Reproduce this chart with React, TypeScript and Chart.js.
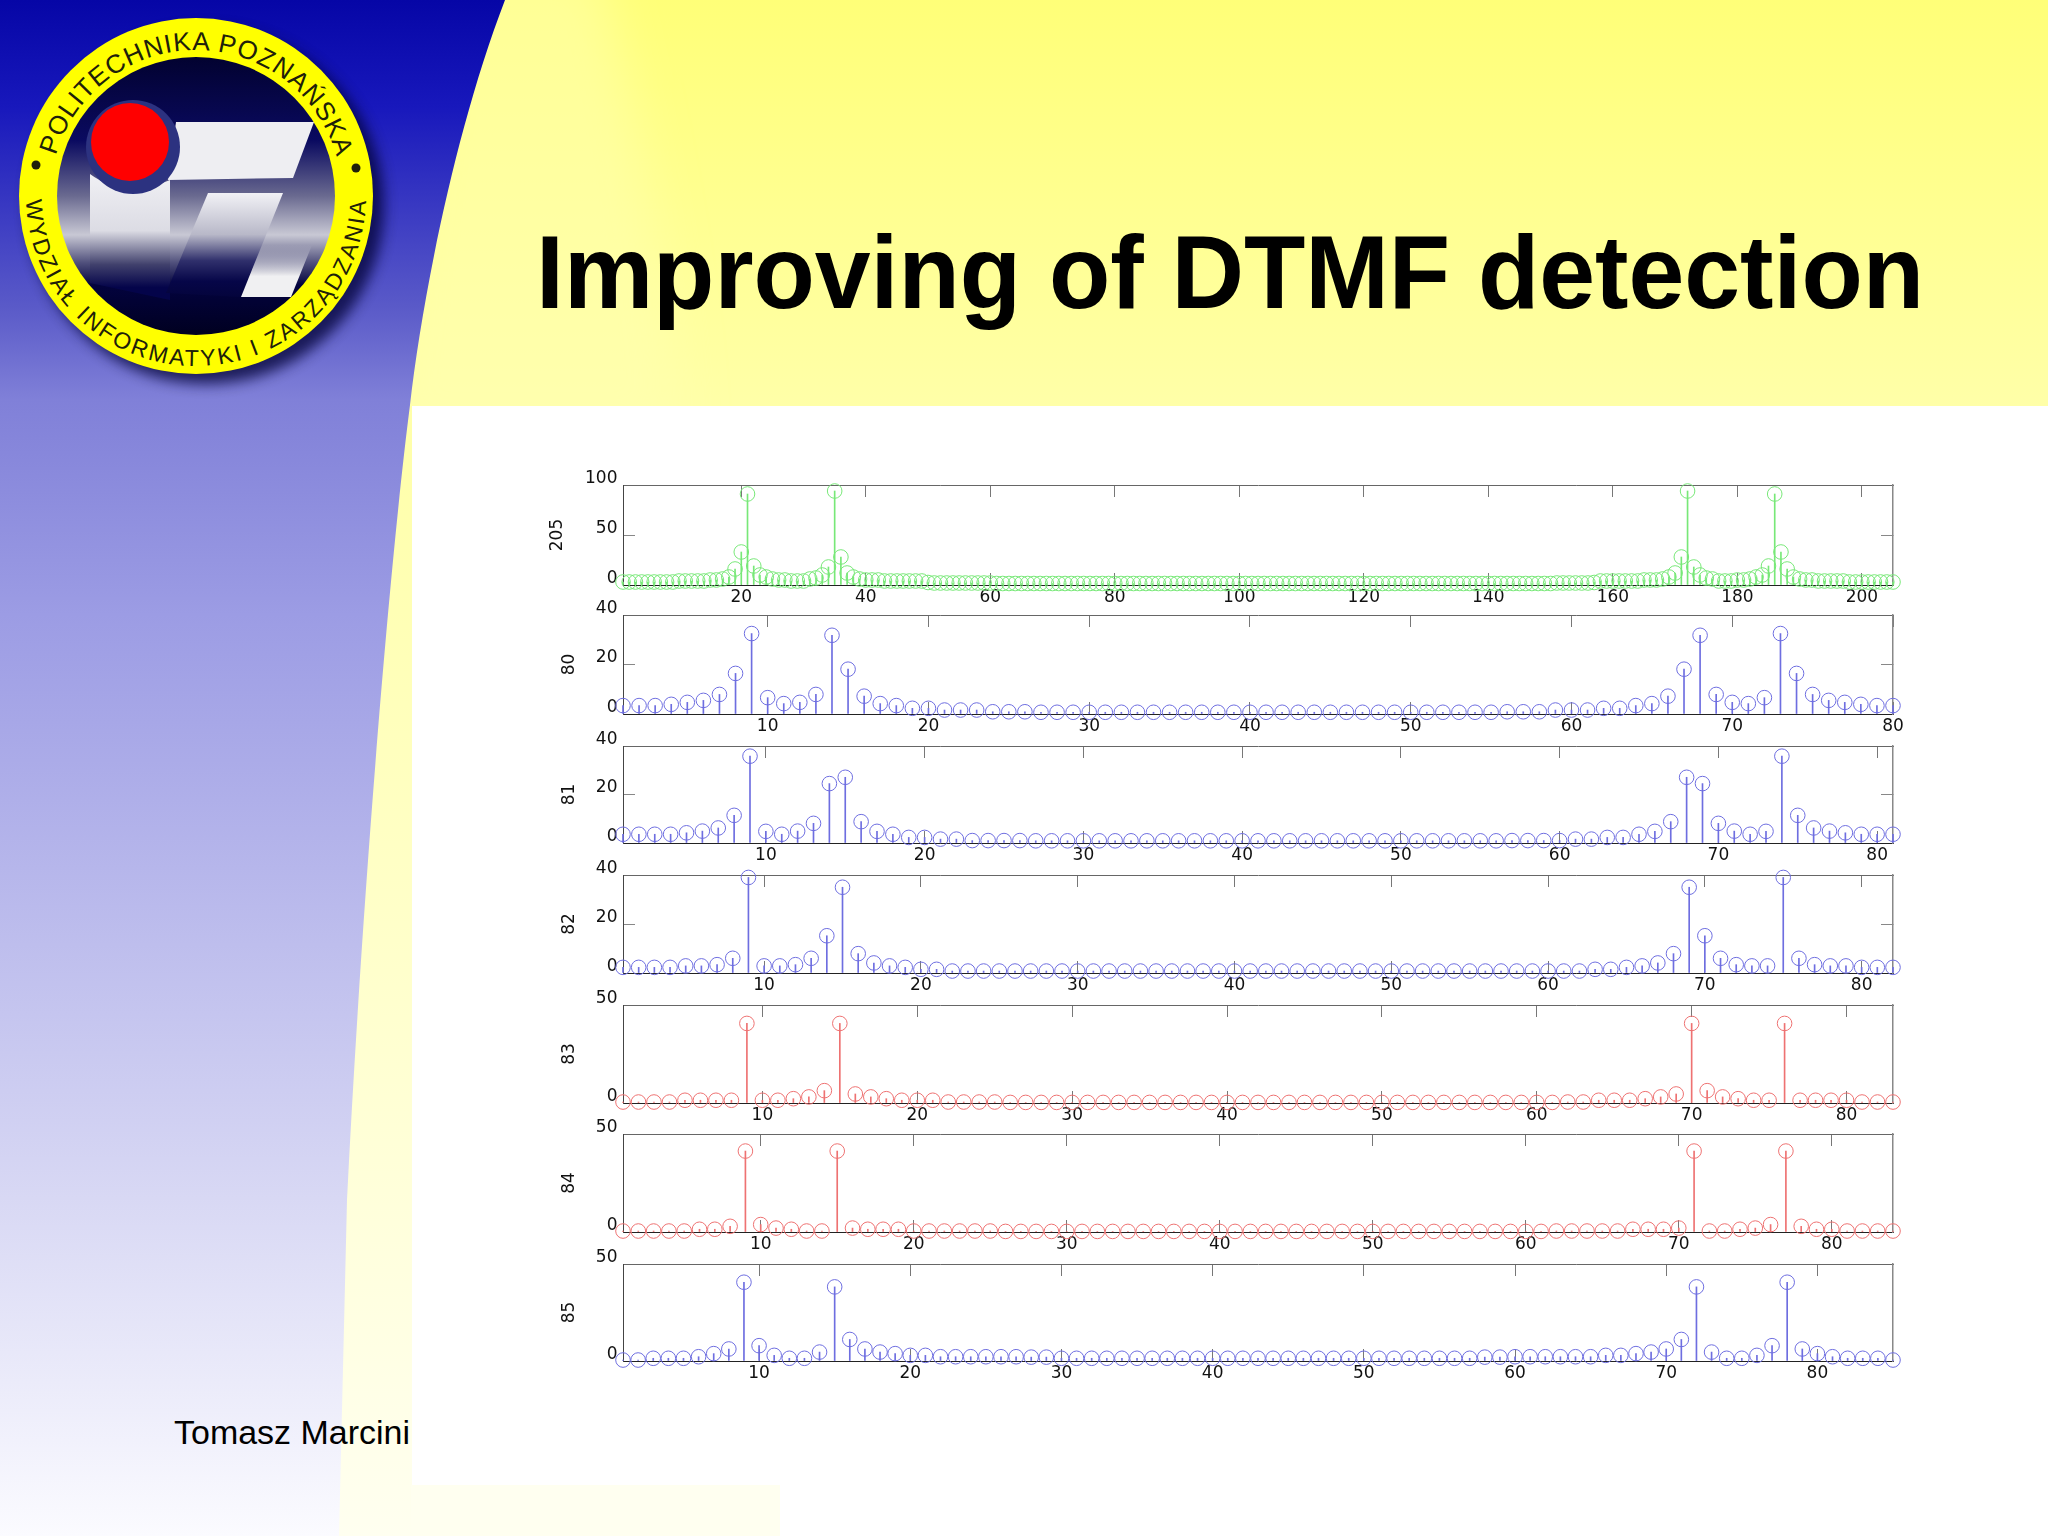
import { useEffect, useRef } from "react";
import { Chart, registerables } from "chart.js";

Chart.register(...registerables);

// magnitude spectra, one array per frame length
const dft205 = [
  3, 3, 3, 3, 3, 3, 3, 3, 3, 4,
  4, 4, 4, 4, 5, 5, 6, 8, 16, 33,
  91, 19, 10, 8, 6, 5, 5, 4, 4, 4,
  6, 7, 10, 18, 94, 28, 12, 8, 6, 5,
  5, 5, 4, 4, 4, 4, 4, 4, 4, 2.5,
  2, 2, 2, 2, 2, 2, 2, 2, 2, 2,
  1.5, 1.5, 1.5, 1.5, 1.5, 1.5, 1.5, 1.5, 1.5, 1.5,
  1.5, 1.5, 1.5, 1.5, 1.5, 1.5, 1.5, 1.5, 1.5, 1.5,
  1.5, 1.5, 1.5, 1.5, 1.5, 1.5, 1.5, 1.5, 1.5, 1.5,
  1.5, 1.5, 1.5, 1.5, 1.5, 1.5, 1.5, 1.5, 1.5, 1.5,
  1.5, 1.5, 1.5, 1.5, 1.5, 1.5, 1.5, 1.5, 1.5, 1.5,
  1.5, 1.5, 1.5, 1.5, 1.5, 1.5, 1.5, 1.5, 1.5, 1.5,
  1.5, 1.5, 1.5, 1.5, 1.5, 1.5, 1.5, 1.5, 1.5, 1.5,
  1.5, 1.5, 1.5, 1.5, 1.5, 1.5, 1.5, 1.5, 1.5, 1.5,
  1.5, 1.5, 1.5, 1.5, 1.5, 1.5, 1.5, 1.5, 1.5, 1.5,
  2, 2, 2, 2, 2, 2, 2.5, 4, 4, 4,
  4, 4, 4, 4, 5, 5, 5, 6, 8, 12,
  28, 94, 18, 10, 7, 6, 4, 4, 4, 5,
  5, 6, 8, 10, 19, 91, 33, 16, 8, 6,
  5, 5, 4, 4, 4, 4, 4, 3, 3, 3,
  3, 3, 3, 3, 3,
];
const dft80 = [
  3.4, 3.4, 3.4, 3.9, 4.7, 5.5, 7.9, 16.4, 32.5, 6.6,
  4.2, 4.7, 7.9, 31.8, 18.1, 7.2, 4.2, 3.4, 2.3, 2.3,
  1.6, 1.6, 1.6, 0.9, 0.9, 0.9, 0.7, 0.7, 0.7, 0.7,
  0.7, 0.7, 0.7, 0.7, 0.7, 0.7, 0.7, 0.7, 0.7, 0.7,
  0.7, 0.7, 0.7, 0.7, 0.7, 0.7, 0.7, 0.7, 0.7, 0.7,
  0.7, 0.7, 0.7, 0.7, 0.7, 0.9, 0.9, 0.9, 1.6, 1.6,
  1.6, 2.3, 2.3, 3.4, 4.2, 7.2, 18.1, 31.8, 7.9, 4.7,
  4.2, 6.6, 32.5, 16.4, 7.9, 5.5, 4.7, 3.9, 3.4, 3.4,
];
const dft81 = [
  3.6, 3.6, 3.6, 3.6, 4.2, 4.9, 6.2, 11.4, 35.8, 4.8,
  3.6, 4.9, 8.1, 24.5, 27.1, 8.8, 4.8, 3.6, 2.3, 2.3,
  1.6, 1.6, 1, 1, 1, 1, 0.9, 0.9, 0.9, 0.9,
  0.9, 0.9, 0.9, 0.9, 0.9, 0.9, 0.9, 0.9, 0.9, 0.9,
  0.9, 0.9, 0.9, 0.9, 0.9, 0.9, 0.9, 0.9, 0.9, 0.9,
  0.9, 0.9, 0.9, 0.9, 0.9, 0.9, 1, 1, 1, 1,
  1.6, 1.6, 2.3, 2.3, 3.6, 4.8, 8.8, 27.1, 24.5, 8.1,
  4.9, 3.6, 4.8, 35.8, 11.4, 6.2, 4.9, 4.2, 3.6, 3.6,
  3.6,
];
const dft82 = [
  2.3, 2.3, 2.3, 2.3, 2.9, 2.9, 3.4, 6, 39, 2.9,
  2.9, 3.4, 6, 15.2, 35, 7.9, 4.1, 2.9, 2.3, 1.5,
  1.5, 0.8, 0.8, 0.8, 0.8, 0.8, 0.8, 0.8, 0.8, 0.8,
  0.8, 0.8, 0.8, 0.8, 0.8, 0.8, 0.8, 0.8, 0.8, 0.8,
  0.8, 0.8, 0.8, 0.8, 0.8, 0.8, 0.8, 0.8, 0.8, 0.8,
  0.8, 0.8, 0.8, 0.8, 0.8, 0.8, 0.8, 0.8, 0.8, 0.8,
  0.8, 0.8, 1.5, 1.5, 2.3, 2.9, 4.1, 7.9, 35, 15.2,
  6, 3.4, 2.9, 2.9, 39, 6, 3.4, 2.9, 2.9, 2.3,
  2.3, 2.3,
];
const dft83 = [
  0.5, 0.5, 0.5, 0.5, 1.4, 1.4, 1.4, 1.4, 40.6, 1.4,
  1.4, 2.2, 3.1, 6.3, 40.6, 4.6, 3.1, 2.2, 1.4, 1.4,
  1.4, 0.5, 0.5, 0.5, 0.5, 0.3, 0.3, 0.3, 0.3, 0.3,
  0.3, 0.3, 0.3, 0.3, 0.3, 0.3, 0.3, 0.3, 0.3, 0.3,
  0.3, 0.3, 0.3, 0.3, 0.3, 0.3, 0.3, 0.3, 0.3, 0.3,
  0.3, 0.3, 0.3, 0.3, 0.3, 0.3, 0.3, 0.3, 0.3, 0.3,
  0.3, 0.5, 0.5, 1.4, 1.4, 1.4, 2.2, 3.1, 4.6, 40.6,
  6.3, 3.1, 2.2, 1.4, 1.4, 40.6, 1.4, 1.4, 1.4, 1.4,
  0.5, 0.5, 0.5,
];
const dft84 = [
  0.5, 0.5, 0.5, 0.5, 0.5, 1.4, 1.4, 2.9, 41.3, 3.8,
  2, 1.4, 0.5, 0.5, 41.3, 2, 1.4, 1.4, 1.4, 0.5,
  0.5, 0.5, 0.5, 0.5, 0.5, 0.3, 0.3, 0.3, 0.3, 0.3,
  0.3, 0.3, 0.3, 0.3, 0.3, 0.3, 0.3, 0.3, 0.3, 0.3,
  0.3, 0.3, 0.3, 0.3, 0.3, 0.3, 0.3, 0.3, 0.3, 0.3,
  0.3, 0.3, 0.3, 0.3, 0.3, 0.3, 0.3, 0.3, 0.3, 0.3,
  0.3, 0.5, 0.5, 0.5, 0.5, 0.5, 1.4, 1.4, 1.4, 2,
  41.3, 0.5, 0.5, 1.4, 2, 3.8, 41.3, 2.9, 1.4, 1.4,
  0.5, 0.5, 0.5, 0.5,
];
const dft85 = [
  0.5, 0.5, 1.4, 1.4, 1.4, 2.2, 3.8, 6.2, 40.6, 7.9,
  2.9, 1.4, 1.4, 4.6, 38.2, 11.1, 6.2, 4.6, 3.8, 2.9,
  2.9, 2.2, 2.2, 2.2, 2.2, 2.2, 2.2, 2, 2, 1.4,
  1.4, 1.4, 1.4, 1.4, 1.4, 1.4, 1.4, 1.4, 1.4, 1.4,
  1.4, 1.4, 1.4, 1.4, 1.4, 1.4, 1.4, 1.4, 1.4, 1.4,
  1.4, 1.4, 1.4, 1.4, 1.4, 1.4, 1.4, 2, 2, 2.2,
  2.2, 2.2, 2.2, 2.2, 2.2, 2.9, 2.9, 3.8, 4.6, 6.2,
  11.1, 38.2, 4.6, 1.4, 1.4, 2.9, 7.9, 40.6, 6.2, 3.8,
  2.2, 1.4, 1.4, 1.4, 0.5,
];

const ticks205 = [20, 40, 60, 80, 100, 120, 140, 160, 180, 200];
const ticksShort = [10, 20, 30, 40, 50, 60, 70, 80];
const yTicks100 = [0, 50, 100];
const yTicks40 = [0, 20, 40];
const yTicks50 = [0, 50];

const GREEN = "#78e878";
const BLUE = "#6e6ee0";
const RED = "#ee7272";

const CANVAS_LEFT = 530;
const CANVAS_WIDTH = 1400;
const FONT = { family: "'DejaVu Sans'", size: 17 };

const panels = [
  { title: "205", values: dft205, xTicks: ticks205, yTicks: yTicks100, color: GREEN, top: 485, bottom: 585, titlePad: 17 },
  { title: "80", values: dft80, xTicks: ticksShort, yTicks: yTicks40, color: BLUE, top: 615, bottom: 714, titlePad: 29 },
  { title: "81", values: dft81, xTicks: ticksShort, yTicks: yTicks40, color: BLUE, top: 746, bottom: 843, titlePad: 29 },
  { title: "82", values: dft82, xTicks: ticksShort, yTicks: yTicks40, color: BLUE, top: 875, bottom: 973, titlePad: 29 },
  { title: "83", values: dft83, xTicks: ticksShort, yTicks: yTicks50, color: RED, top: 1005, bottom: 1103, titlePad: 29 },
  { title: "84", values: dft84, xTicks: ticksShort, yTicks: yTicks50, color: RED, top: 1134, bottom: 1232, titlePad: 29 },
  { title: "85", values: dft85, xTicks: ticksShort, yTicks: yTicks50, color: BLUE, top: 1264, bottom: 1361, titlePad: 29 },
];

type PanelCfg = (typeof panels)[number];

const AXIS_LEFT = 93;
const AXIS_RIGHT = 37;
// must stay above the y scale's own label padding, or the plot gets pushed down
const AXIS_TOP = 32;
const AXIS_BOTTOM = 32;
const TICK_IN = -12;

function StemPanel({ cfg }: { cfg: PanelCfg }) {
  const canvasRef = useRef<HTMLCanvasElement | null>(null);
  const chartRef = useRef<Chart | null>(null);
  const height = cfg.bottom - cfg.top + AXIS_TOP + AXIS_BOTTOM;

  useEffect(() => {
    const ctx = canvasRef.current?.getContext("2d");
    if (!ctx) return;
    const points = cfg.values.map((y, i) => ({ x: i + 1, y }));
    const yMax = cfg.yTicks[cfg.yTicks.length - 1];
    const xMax = cfg.values.length;
    const setX = (s: any) => { s.ticks = cfg.xTicks.map((value) => ({ value })); };
    const setY = (s: any) => { s.ticks = cfg.yTicks.map((value) => ({ value })); };

    chartRef.current = new Chart(ctx, {
      type: "bar",
      data: {
        datasets: [
          {
            type: "line",
            data: points,
            showLine: false,
            pointStyle: "circle",
            pointRadius: 7.3,
            pointBackgroundColor: "rgba(0,0,0,0)",
            pointBorderColor: cfg.color,
            pointBorderWidth: 1,
            clip: false,
          },
          {
            type: "bar",
            data: points,
            backgroundColor: cfg.color,
            barThickness: 1,
            borderWidth: 0,
            clip: false,
          },
        ],
      } as any,
      options: {
        animation: false,
        responsive: false,
        devicePixelRatio: 1,
        layout: { padding: 0 },
        plugins: { legend: { display: false }, tooltip: { enabled: false } },
        scales: {
          x: {
            type: "linear",
            position: "bottom",
            min: 1,
            max: xMax,
            offset: false,
            afterBuildTicks: setX,
            afterFit: (s: any) => { s.height = AXIS_BOTTOM; },
            border: { color: "#222", width: 1 },
            grid: { drawOnChartArea: false, tickLength: TICK_IN, tickColor: "#777", offset: false },
            ticks: { font: FONT, color: "#111", padding: 14.5, maxRotation: 0, autoSkip: false, callback: (v: any) => String(v) },
          },
          x2: {
            type: "linear",
            axis: "x",
            position: "top",
            min: 1,
            max: xMax,
            offset: false,
            afterBuildTicks: setX,
            afterFit: (s: any) => { s.height = AXIS_TOP; },
            border: { color: "#666", width: 1 },
            grid: { drawOnChartArea: false, tickLength: TICK_IN, tickColor: "#777", offset: false },
            ticks: { display: false },
          },
          y: {
            type: "linear",
            position: "left",
            min: 0,
            max: yMax,
            afterBuildTicks: setY,
            afterFit: (s: any) => { s.width = AXIS_LEFT; },
            border: { color: "#444", width: 1 },
            grid: { drawOnChartArea: false, tickLength: TICK_IN, tickColor: "#888" },
            title: { display: true, text: cfg.title, font: FONT, color: "#111", padding: { top: cfg.titlePad, bottom: 0 } },
            ticks: { font: FONT, color: "#111", padding: 17.5, labelOffset: -6.5, autoSkip: false, callback: (v: any) => String(v) },
          },
          y2: {
            type: "linear",
            axis: "y",
            position: "right",
            min: 0,
            max: yMax,
            afterBuildTicks: setY,
            afterFit: (s: any) => { s.width = AXIS_RIGHT; },
            border: { color: "#888", width: 1.5 },
            grid: { drawOnChartArea: false, tickLength: TICK_IN, tickColor: "#888" },
            ticks: { display: false },
          },
        },
      } as any,
    });
    return () => chartRef.current?.destroy();
  }, []);

  return (
    <canvas
      ref={canvasRef}
      width={CANVAS_WIDTH}
      height={height}
      style={{ position: "absolute", left: CANVAS_LEFT, top: cfg.top - AXIS_TOP, width: CANVAS_WIDTH, height }}
    />
  );
}

function Backdrop() {
  const sans = "'Liberation Sans'";
  return (
    <svg width={2048} height={1536} viewBox="0 0 2048 1536" style={{ position: "absolute", left: 0, top: 0 }}>
      <defs>
        <linearGradient id="yellowTop" x1="0" y1="0" x2="0" y2="1">
          <stop offset="0" stopColor="#ffff78" />
          <stop offset="1" stopColor="#ffffa8" />
        </linearGradient>
        <linearGradient id="yellowSide" x1="0" y1="0" x2="0" y2="1">
          <stop offset="0" stopColor="#ffffa8" />
          <stop offset="1" stopColor="#fffff0" />
        </linearGradient>
        <linearGradient id="blueSide" x1="0" y1="0" x2="0" y2="1">
          <stop offset="0" stopColor="#0606a6" />
          <stop offset="0.07" stopColor="#1818bc" />
          <stop offset="0.2" stopColor="#5a5ac8" />
          <stop offset="0.26" stopColor="#8080d8" />
          <stop offset="0.4" stopColor="#9c9ce4" />
          <stop offset="0.78" stopColor="#d8d8f4" />
          <stop offset="1" stopColor="#fbfbff" />
        </linearGradient>
        <linearGradient id="discFill" x1="0" y1="0" x2="0" y2="1">
          <stop offset="0" stopColor="#020230" />
          <stop offset="0.3" stopColor="#0a0a60" />
          <stop offset="0.5" stopColor="#6a6a90" />
          <stop offset="0.64" stopColor="#c8c8d4" />
          <stop offset="0.74" stopColor="#50507c" />
          <stop offset="0.82" stopColor="#03033e" />
          <stop offset="1" stopColor="#000020" />
        </linearGradient>
        <linearGradient id="stemFill" x1="0" y1="0" x2="0" y2="1">
          <stop offset="0" stopColor="#f0f0f4" />
          <stop offset="0.45" stopColor="#dcdce4" />
          <stop offset="0.72" stopColor="#40406c" />
          <stop offset="0.9" stopColor="#04044a" />
          <stop offset="1" stopColor="#04044a" />
        </linearGradient>
        <linearGradient id="diagFill" x1="0" y1="0" x2="0" y2="1">
          <stop offset="0" stopColor="#f2f2f6" />
          <stop offset="0.4" stopColor="#b8b8c8" />
          <stop offset="0.65" stopColor="#30306c" />
          <stop offset="0.85" stopColor="#060648" />
          <stop offset="1" stopColor="#04043c" />
        </linearGradient>
        <linearGradient id="zFill" x1="0" y1="0" x2="0" y2="1">
          <stop offset="0" stopColor="#f0f0f2" stopOpacity="0" />
          <stop offset="0.6" stopColor="#f0f0f2" />
          <stop offset="1" stopColor="#f0f0f2" />
        </linearGradient>
        <filter id="soft" x="-20%" y="-20%" width="140%" height="140%">
          <feGaussianBlur stdDeviation="7" />
        </filter>
        <filter id="wide" x="-30%" y="-30%" width="160%" height="160%">
          <feGaussianBlur stdDeviation="25" />
        </filter>
        <clipPath id="headClip">
          <rect x={0} y={0} width={2048} height={406} />
        </clipPath>
        <path id="ringTop" d="M 50 196 A 146 146 0 0 1 342 196" />
        <path id="ringBottom" d="M 26 196 A 170 170 0 0 0 366 196" />
      </defs>

      <rect x={0} y={0} width={2048} height={1536} fill="#ffffff" />
      <rect x={0} y={0} width={2048} height={406} fill="url(#yellowTop)" />
      <g clipPath="url(#headClip)">
        <path d="M 450 -40 L 600 -40 C 640 130, 670 280, 680 440 L 380 440 Z" fill="#ffffb4" opacity={0.5} filter="url(#wide)" />
      </g>
      <rect x={300} y={406} width={112} height={1130} fill="url(#yellowSide)" />
      <rect x={411} y={1485} width={369} height={51} fill="#fffff0" />
      <path d="M 0 0 L 505 0 C 455 130, 422 300, 410 405 C 390 560, 362 900, 347 1200 L 339 1536 L 0 1536 Z" fill="url(#blueSide)" />

      <ellipse cx={206} cy={206} rx={178} ry={178} fill="#000030" opacity={0.75} filter="url(#soft)" />
      <ellipse cx={196} cy={196} rx={177} ry={178} fill="#ffff00" />
      <ellipse cx={196} cy={196} rx={139} ry={139} fill="url(#discFill)" />
      <polygon points="176,122 314,122 293,178 168,180" fill="#eeeef2" />
      <path d="M 90 174 Q 125 200 170 180 L 170 300 L 90 283 Z" fill="url(#stemFill)" />
      <polygon points="208,193 283,193 241,297 166,293" fill="url(#diagFill)" />
      <polygon points="262,245 241,297 291,297 312,245" fill="url(#zFill)" />
      <ellipse cx={133} cy={147} rx={47} ry={47} fill="#2c3280" />
      <ellipse cx={130} cy={142} rx={39} ry={39} fill="#ff0000" />
      <text fontFamily={sans} fontSize={26} fill="#20200a">
        <textPath href="#ringTop" textLength={378} lengthAdjust="spacing" startOffset={41}>POLITECHNIKA POZNAŃSKA</textPath>
      </text>
      <text fontFamily={sans} fontSize={23} fill="#20200a">
        <textPath href="#ringBottom" textLength={525} lengthAdjust="spacing" startOffset={4}>WYDZIAŁ INFORMATYKI I ZARZĄDZANIA</textPath>
      </text>
      <circle cx={36} cy={165} r={4.5} fill="#20200a" />
      <circle cx={356} cy={168} r={4.5} fill="#20200a" />

      <text x={536} y={308} fontFamily={sans} fontWeight="bold" fontSize={103} fill="#000" textLength={1388} lengthAdjust="spacingAndGlyphs">
        Improving of DTMF detection
      </text>
      <text x={174} y={1444} fontFamily={sans} fontSize={34} fill="#000" textLength={236} lengthAdjust="spacingAndGlyphs">
        Tomasz Marcini
      </text>
    </svg>
  );
}

export default function App() {
  return (
    <div style={{ position: "absolute", left: 0, top: 0, width: 2048, height: 1536, overflow: "hidden" }}>
      <Backdrop />
      {panels.map((cfg) => (
        <StemPanel key={cfg.title} cfg={cfg} />
      ))}
    </div>
  );
}
